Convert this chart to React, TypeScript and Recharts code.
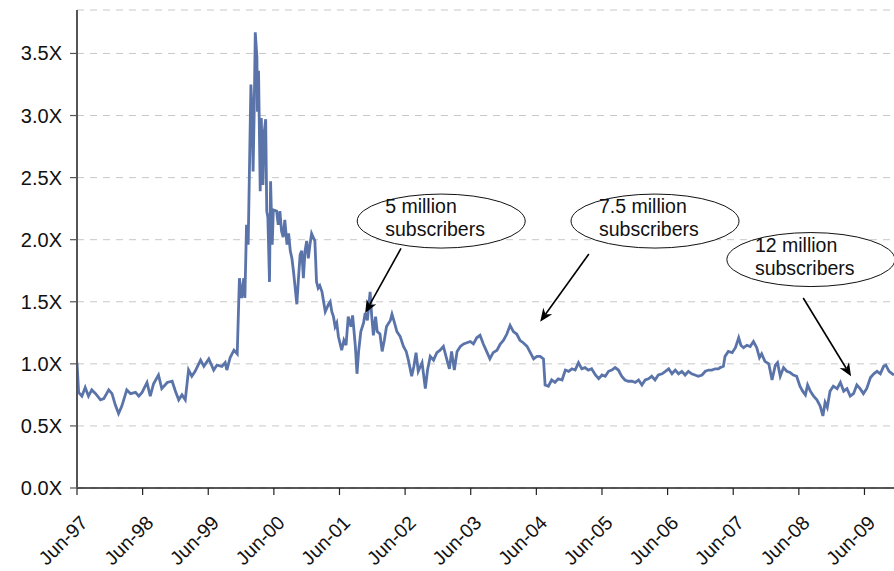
import React from "react";
import {
  CartesianGrid,
  Line,
  LineChart,
  ReferenceDot,
  ReferenceLine,
  XAxis,
  YAxis,
} from "recharts";

// months since Jun-97
const months = [
  0, 0.3, 0.9, 1.5, 2.1, 2.7, 3.4, 4.3, 4.9, 5.8,
  6.4, 7.0, 7.6, 8.2, 9.1, 9.8, 10.7, 11.3, 11.9, 12.8,
  13.4, 14.0, 14.9, 15.5, 16.5, 17.4, 18.0, 18.6, 19.2, 19.8,
  20.4, 21.0, 21.6, 22.6, 23.2, 24.1, 25.0, 25.6, 26.5, 27.1,
  27.4, 28.0, 28.7, 29.3, 29.7, 30.1, 30.5, 30.7, 31.0, 31.3,
  31.5, 31.8, 32.0, 32.2, 32.4, 32.6, 32.9, 33.0, 33.2, 33.5,
  33.7, 34.0, 34.2, 34.5, 34.7, 34.9, 35.2, 35.4, 35.7, 35.9,
  36.5, 36.8, 37.1, 37.4, 37.7, 38.0, 38.4, 38.7, 39.0, 39.3,
  39.6, 39.9, 40.2, 40.5, 40.8, 41.1, 41.4, 41.7, 42.0, 42.3,
  42.6, 42.9, 43.2, 43.5, 43.8, 44.1, 44.4, 44.8, 45.1, 45.4,
  46.0, 46.3, 46.6, 46.9, 47.2, 47.5, 47.8, 48.4, 48.8, 49.2,
  49.6, 50.1, 50.4, 50.9, 51.2, 51.5, 51.9, 52.4, 52.7, 53.1,
  53.6, 53.9, 54.2, 54.6, 54.9, 55.4, 55.8, 56.2, 56.6, 57.3,
  57.6, 58.0, 58.5, 59.1, 59.7, 60.2, 60.6, 61.2, 61.6, 62.0,
  62.4, 63.1, 63.7, 64.1, 64.6, 65.2, 65.8, 66.4, 67.0, 67.6,
  68.1, 68.5, 69.0, 69.5, 70.1, 70.7, 71.3, 71.9, 72.5, 73.1,
  73.7, 74.3, 74.9, 75.5, 76.1, 76.8, 77.4, 78.0, 78.6, 79.2,
  79.8, 80.4, 81.0, 81.6, 82.3, 82.9, 83.5, 84.1, 84.7, 85.3,
  85.6, 86.2, 86.8, 87.4, 88.0, 88.7, 89.3, 89.9, 90.5, 91.1,
  91.7, 92.3, 92.9, 93.5, 94.1, 94.8, 95.4, 96.0, 96.6, 97.2,
  97.8, 98.4, 99.0, 99.6, 100.2, 100.8, 101.5, 102.1, 102.7, 103.3,
  103.9, 104.5, 105.1, 105.7, 106.3, 107.0, 107.6, 108.2, 108.8, 109.4,
  110.0, 110.6, 111.2, 111.8, 112.4, 113.0, 113.6, 114.3, 114.9, 115.5,
  116.1, 116.7, 117.3, 117.6, 118.2, 118.5, 119.1, 119.8, 120.4, 121.0,
  121.4, 121.9, 122.5, 123.1, 123.7, 124.3, 124.8, 125.2, 125.8, 126.5,
  127.1, 127.7, 128.1, 128.6, 129.2, 129.8, 130.4, 131.0, 131.6, 132.2,
  132.7, 133.2, 133.6, 134.1, 134.7, 135.3, 135.9, 136.4, 136.8, 137.2,
  137.7, 138.3, 139.0, 139.6, 140.2, 140.8, 141.4, 142.0, 142.6, 143.2,
  143.8, 144.4, 145.1, 145.7, 146.3, 146.9, 147.5, 147.9, 148.5, 149.1, 149.4,
];

// valuation multiple (X)
const multiple = [
  1.01, 0.77, 0.74, 0.81, 0.74, 0.79, 0.76, 0.71, 0.72, 0.79,
  0.76, 0.67, 0.60, 0.66, 0.79, 0.76, 0.77, 0.74, 0.77, 0.85,
  0.74, 0.84, 0.91, 0.80, 0.85, 0.86, 0.78, 0.71, 0.75, 0.71,
  0.95, 0.90, 0.94, 1.03, 0.98, 1.04, 0.95, 0.99, 0.98, 1.01,
  0.95, 1.05, 1.11, 1.08, 1.69, 1.53, 1.69, 1.53, 2.12, 1.96,
  2.47, 3.25, 3.06, 2.55, 3.03, 3.67, 3.47, 3.03, 3.36, 2.39,
  2.98, 2.44, 2.85, 2.97, 2.23, 2.18, 1.66, 2.47, 1.96, 2.24,
  2.23, 2.12, 2.23, 2.07, 2.02, 2.16, 1.96, 2.05, 1.91, 1.85,
  1.74, 1.61, 1.48, 1.69, 1.88, 1.91, 1.69, 1.91, 1.99, 1.85,
  1.96, 2.05, 2.02, 1.99, 1.66, 1.61, 1.63, 1.58, 1.50, 1.42,
  1.48, 1.50, 1.42, 1.38, 1.30, 1.33, 1.22, 1.11, 1.19, 1.15,
  1.38, 1.30, 1.39, 1.14, 0.92, 1.10, 1.26, 1.33, 1.41, 1.35,
  1.58, 1.38, 1.23, 1.38, 1.26, 1.24, 1.10, 1.19, 1.30, 1.35,
  1.40, 1.34, 1.26, 1.22, 1.14, 1.10, 1.03, 0.90, 0.98, 1.09,
  0.94, 1.01, 0.80, 0.95, 1.06, 1.03, 1.09, 1.11, 1.14, 1.04,
  0.96, 1.10, 0.95, 1.10, 1.14, 1.16, 1.17, 1.18, 1.16, 1.21,
  1.23, 1.16, 1.10, 1.04, 1.09, 1.11, 1.16, 1.19, 1.24, 1.31,
  1.26, 1.24, 1.19, 1.17, 1.14, 1.09, 1.04, 1.06, 1.06, 1.04,
  0.83, 0.82, 0.87, 0.85, 0.88, 0.87, 0.95, 0.94, 0.96, 0.95,
  1.01, 0.96, 0.97, 0.95, 0.96, 0.91, 0.88, 0.91, 0.90, 0.94,
  0.95, 0.97, 0.95, 0.90, 0.87, 0.86, 0.86, 0.85, 0.87, 0.83,
  0.87, 0.88, 0.90, 0.87, 0.91, 0.92, 0.94, 0.96, 0.92, 0.95,
  0.92, 0.94, 0.91, 0.94, 0.92, 0.91, 0.90, 0.91, 0.94, 0.95,
  0.95, 0.96, 0.96, 0.97, 0.98, 1.06, 1.10, 1.09, 1.13, 1.21,
  1.15, 1.13, 1.15, 1.14, 1.18, 1.13, 1.05, 1.08, 1.02, 1.00,
  0.87, 0.99, 1.01, 0.90, 0.97, 0.94, 0.93, 0.91, 0.90, 0.82,
  0.78, 0.75, 0.83, 0.78, 0.74, 0.71, 0.66, 0.58, 0.69, 0.65,
  0.78, 0.82, 0.80, 0.85, 0.78, 0.80, 0.74, 0.76, 0.83, 0.80,
  0.76, 0.80, 0.89, 0.92, 0.94, 0.92, 0.98, 0.99, 0.94, 0.92, 0.91,
];

const xTicks = [0, 12, 24, 36, 48, 60, 72, 84, 96, 108, 120, 132, 144];
const xTickLabels = [
  "Jun-97", "Jun-98", "Jun-99", "Jun-00", "Jun-01", "Jun-02", "Jun-03",
  "Jun-04", "Jun-05", "Jun-06", "Jun-07", "Jun-08", "Jun-09",
];
const yTicks = [0, 0.5, 1, 1.5, 2, 2.5, 3, 3.5];

// callouts: bubble position + arrow from/to (month, multiple)
const calloutText = [
  ["5 million", "subscribers"],
  ["7.5 million", "subscribers"],
  ["12 million", "subscribers"],
];
const calloutBubble = [
  { m: 66.6, v: 2.15 },
  { m: 105.7, v: 2.15 },
  { m: 134.2, v: 1.84 },
];
const calloutArrow = [
  [{ m: 59.25, v: 1.93 }, { m: 52.7, v: 1.41 }],
  [{ m: 93.6, v: 1.885 }, { m: 84.7, v: 1.34 }],
  [{ m: 132.8, v: 1.53 }, { m: 141.55, v: 0.9 }],
];

const data = months.map((m, i) => ({ m, v: multiple[i] }));

const FONT = '"Liberation Sans", Arial, sans-serif';
const LINE_COL = "#5a74aa";

function XTick(props: any) {
  const { x, y, payload } = props;
  const i = xTicks.indexOf(payload.value);
  const tx = x + 12;
  const ty = y + 27;
  return (
    <text
      x={tx}
      y={ty}
      textAnchor="end"
      fontSize={19.5}
      fontFamily={FONT}
      fill="#111"
      transform={`rotate(-45, ${tx}, ${ty})`}
    >
      {xTickLabels[i]}
    </text>
  );
}

function YTick(props: any) {
  const { x, y, payload } = props;
  return (
    <text
      x={x}
      y={y}
      dy={7}
      textAnchor="end"
      fontSize={20}
      fontFamily={FONT}
      fill="#111"
    >
      {`${Number(payload.value).toFixed(1)}X`}
    </text>
  );
}

function bubble(lines: string[]) {
  return (props: any) => {
    const { cx, cy } = props;
    return (
      <g>
        <ellipse cx={cx} cy={cy} rx={84} ry={27} fill="#fff" stroke="#111" strokeWidth={1} />
        <text x={cx - 56} y={cy - 8} fontSize={19.5} fontFamily={FONT} fill="#111">
          {lines[0]}
        </text>
        <text x={cx - 56} y={cy + 15} fontSize={19.5} fontFamily={FONT} fill="#111">
          {lines[1]}
        </text>
      </g>
    );
  };
}

function Arrow(props: any) {
  const { x1, y1, x2, y2 } = props;
  const dx = x2 - x1;
  const dy = y2 - y1;
  const len = Math.sqrt(dx * dx + dy * dy) || 1;
  const ux = dx / len;
  const uy = dy / len;
  const hl = 13;
  const hw = 5.5;
  const bx = x2 - ux * hl;
  const by = y2 - uy * hl;
  const nx = x2 - ux * hl * 0.7;
  const ny = y2 - uy * hl * 0.7;
  const pts = [
    `${x2},${y2}`,
    `${bx - uy * hw},${by + ux * hw}`,
    `${nx},${ny}`,
    `${bx + uy * hw},${by - ux * hw}`,
  ].join(" ");
  return (
    <g>
      <line x1={x1} y1={y1} x2={nx} y2={ny} stroke="#000" strokeWidth={1.6} />
      <polygon points={pts} fill="#000" />
    </g>
  );
}

export default function App() {
  return (
    <div style={{ position: "absolute", left: 0, top: 0, width: 894, height: 571, background: "#fff" }}>
      <LineChart
        width={894}
        height={571}
        data={data}
        margin={{ top: 10, right: 0, left: 0, bottom: 0 }}
      >
        <CartesianGrid
          horizontal
          vertical={false}
          stroke="#c8c8c8"
          strokeDasharray="7 6"
        />
        <XAxis
          type="number"
          dataKey="m"
          domain={[0, 149.4]}
          ticks={xTicks}
          interval={0}
          height={83}
          tick={<XTick />}
          tickSize={7}
          axisLine={{ stroke: "#222", strokeWidth: 1.5 }}
          tickLine={{ stroke: "#222", strokeWidth: 1.2 }}
          allowDataOverflow
        />
        <YAxis
          type="number"
          domain={[0, 3.85]}
          ticks={yTicks}
          interval={0}
          width={77}
          tickSize={7}
          tickMargin={8}
          tick={<YTick />}
          axisLine={{ stroke: "#555", strokeWidth: 2 }}
          tickLine={{ stroke: "#555", strokeWidth: 1.2 }}
          allowDataOverflow
        />
        <Line
          type="linear"
          dataKey="v"
          stroke={LINE_COL}
          strokeWidth={2.8}
          dot={false}
          activeDot={false}
          isAnimationActive={false}
        />
        {calloutArrow.map((seg, i) => (
          <ReferenceLine
            key={`a${i}`}
            segment={[
              { x: seg[0].m, y: seg[0].v },
              { x: seg[1].m, y: seg[1].v },
            ]}
            ifOverflow="visible"
            shape={(p: any) => <Arrow {...p} />}
          />
        ))}
        {calloutBubble.map((b, i) => (
          <ReferenceDot
            key={`b${i}`}
            x={b.m}
            y={b.v}
            r={1}
            ifOverflow="visible"
            shape={bubble(calloutText[i])}
          />
        ))}
      </LineChart>
    </div>
  );
}
